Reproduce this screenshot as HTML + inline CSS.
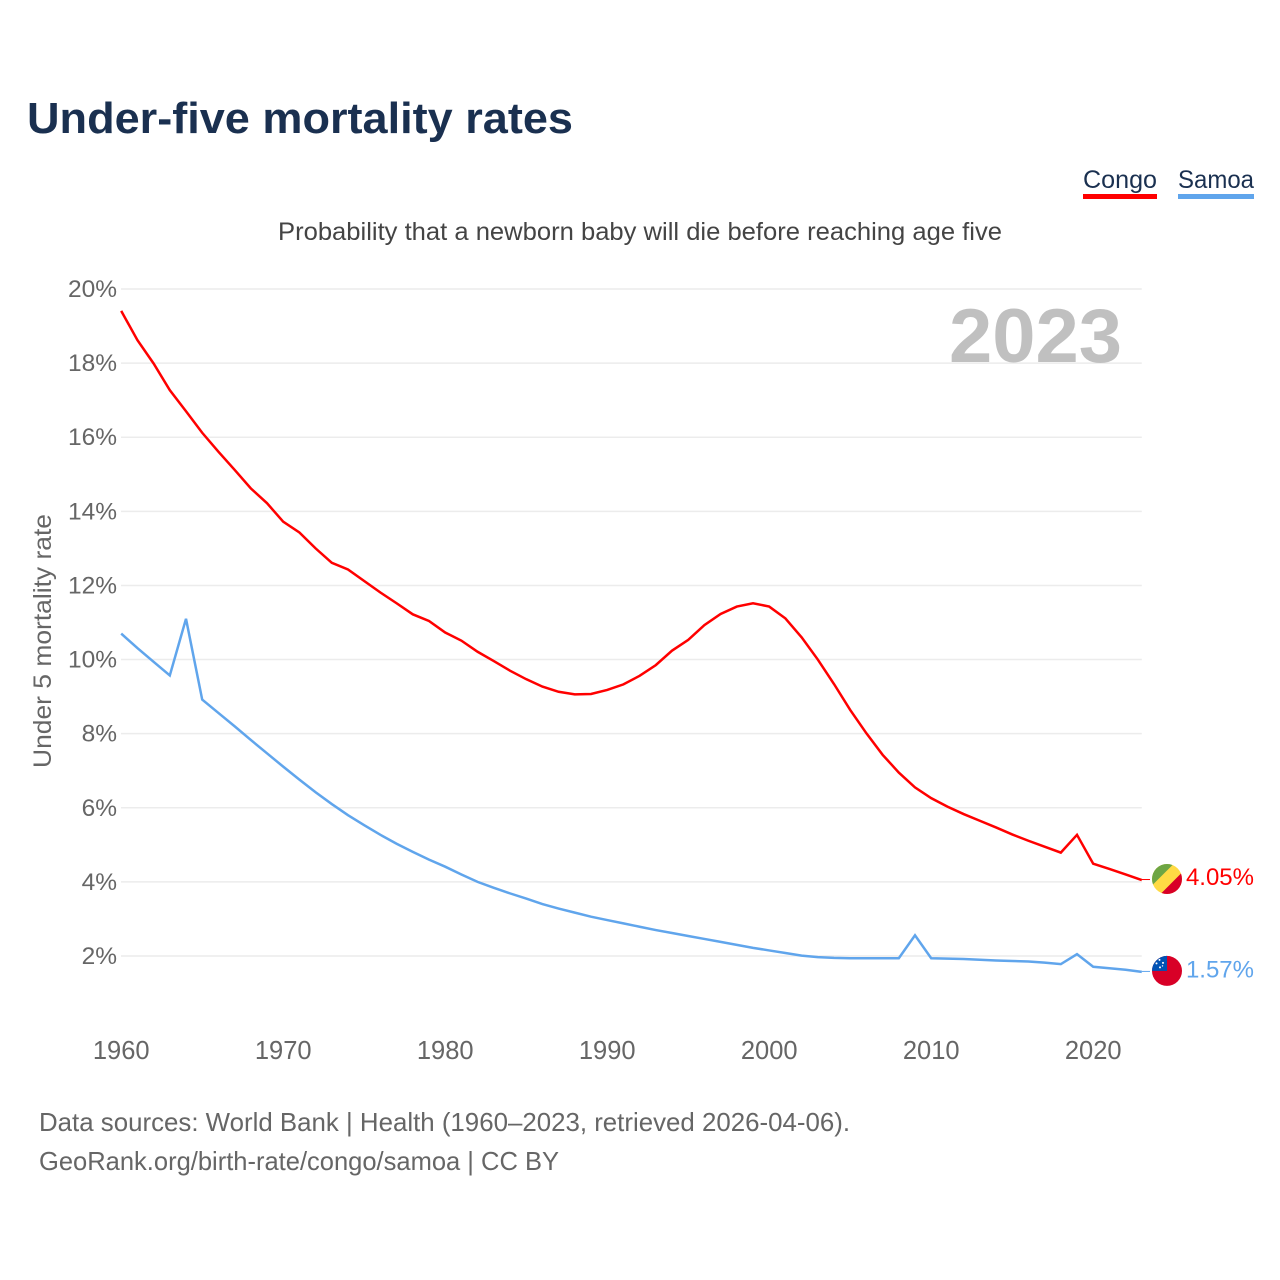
<!DOCTYPE html>
<html lang="en">
<head>
<meta charset="utf-8">
<title>Under-five mortality rates</title>
<style>
  html, body { margin: 0; padding: 0; background: #fff; }
  svg { display: block; font-family: "Liberation Sans", sans-serif; }
</style>
</head>
<body>
<svg id="chart" xmlns="http://www.w3.org/2000/svg" width="1280" height="1280" viewBox="0 0 1280 1280">
  <rect x="0" y="0" width="1280" height="1280" fill="#ffffff"/>
  <text x="27" y="133" font-size="44" font-weight="700" fill="#1a3050" textLength="546" lengthAdjust="spacingAndGlyphs">Under-five mortality rates</text>

  <g>
    <text x="1083" y="188" font-size="25" fill="#1a3050" textLength="74" lengthAdjust="spacingAndGlyphs">Congo</text>
    <rect x="1083" y="194" width="74" height="5" fill="#ff0000"/>
  </g>
  <g>
    <text x="1178" y="188" font-size="25" fill="#1a3050" textLength="76" lengthAdjust="spacingAndGlyphs">Samoa</text>
    <rect x="1178" y="194" width="76" height="5" fill="#60a5ec"/>
  </g>

  <text x="278" y="240" font-size="25" fill="#444444" textLength="724" lengthAdjust="spacingAndGlyphs">Probability that a newborn baby will die before reaching age five</text>
  <text transform="translate(51 768) rotate(-90)" x="0" y="0" font-size="25" fill="#666666" textLength="254" lengthAdjust="spacingAndGlyphs">Under 5 mortality rate</text>

  <g id="grid"></g>
  <g id="yticks"></g>
  <g id="xticks"></g>

  <text x="949" y="362" font-size="76" font-weight="700" fill="#c0c0c0" textLength="173" lengthAdjust="spacingAndGlyphs">2023</text>

  <g id="series"></g>

  <defs>
    <clipPath id="flag-clip"><circle cx="0" cy="0" r="15"/></clipPath>
  </defs>
  <g id="flag-congo" clip-path="url(#flag-clip)">
    <rect x="-16" y="-16" width="32" height="32" fill="#ffda44"/>
    <polygon points="-16,-16 7.5,-16 -16,7.5" fill="#6da544"/>
    <polygon points="16,16 -7.5,16 16,-7.5" fill="#d80027"/>
  </g>
  <g id="flag-samoa" clip-path="url(#flag-clip)">
    <rect x="-16" y="-16" width="32" height="32" fill="#d80027"/>
    <rect x="-16" y="-16" width="16" height="16" fill="#0052b4"/>
    <g fill="#ffffff">
      <circle cx="-7.5" cy="-11" r="1"/>
      <circle cx="-10.5" cy="-7.5" r="1"/>
      <circle cx="-4" cy="-8" r="1"/>
      <circle cx="-7" cy="-3.5" r="1"/>
      <circle cx="-4.5" cy="-5" r="0.7"/>
    </g>
  </g>
  <g id="end-labels"></g>

  <g>
    <text x="39" y="1131" font-size="26" fill="#666666" textLength="811" lengthAdjust="spacingAndGlyphs">Data sources: World Bank | Health (1960–2023, retrieved 2026-04-06).</text>
    <a><text x="39" y="1170" font-size="26" fill="#666666" textLength="520" lengthAdjust="spacingAndGlyphs">GeoRank.org/birth-rate/congo/samoa | CC BY</text></a>
  </g>
</svg>
<script>
const startYear = 1960;
const congoValues = [19.41,18.62,17.99,17.27,16.70,16.12,15.61,15.12,14.62,14.22,13.72,13.43,13.00,12.61,12.43,12.12,11.81,11.52,11.22,11.04,10.73,10.51,10.21,9.96,9.70,9.47,9.27,9.13,9.06,9.07,9.18,9.33,9.56,9.85,10.24,10.53,10.93,11.23,11.43,11.52,11.43,11.11,10.60,10.00,9.34,8.64,8.01,7.43,6.95,6.55,6.26,6.03,5.83,5.65,5.47,5.28,5.11,4.95,4.79,5.27,4.49,4.35,4.20,4.05];
const samoaValues = [10.70,10.31,9.94,9.57,11.10,8.92,8.56,8.20,7.83,7.47,7.11,6.76,6.42,6.10,5.80,5.53,5.27,5.03,4.81,4.60,4.41,4.20,4.00,3.84,3.69,3.55,3.40,3.28,3.17,3.06,2.97,2.88,2.79,2.70,2.62,2.54,2.46,2.38,2.30,2.22,2.15,2.08,2.01,1.97,1.95,1.94,1.94,1.94,1.94,2.56,1.94,1.93,1.92,1.90,1.88,1.865,1.85,1.82,1.78,2.05,1.71,1.67,1.63,1.57];
const yTickValues = [2,4,6,8,10,12,14,16,18,20];
const yTickLabels = ["2%","4%","6%","8%","10%","12%","14%","16%","18%","20%"];
const xTickValues = [1960,1970,1980,1990,2000,2010,2020];
const xTickLabels = ["1960","1970","1980","1990","2000","2010","2020"];
const congoEndLabel = "4.05%";
const samoaEndLabel = "1.57%";

const NS = 'http://www.w3.org/2000/svg';
function xScale(year) { return 121.2 + (year - 1960) * 16.2; }
function yScale(v) { return 289 + (20 - v) * 37.055; }
const plotRight = xScale(2023);

function make(tag, attrs) {
  const el = document.createElementNS(NS, tag);
  for (const k in attrs) el.setAttribute(k, attrs[k]);
  return el;
}

const grid = document.getElementById('grid');
const yticks = document.getElementById('yticks');
yTickValues.forEach(function (v, i) {
  const line = make('line', { x1: 121, x2: plotRight, y1: yScale(v), y2: yScale(v), stroke: '#ececec', 'stroke-width': 1.5 });
  
  
  grid.appendChild(line);
  const label = make('text', { x: 117, y: yScale(v) + 8, 'font-size': 24.5, fill: '#666666', 'text-anchor': 'end' });
  
  
  label.textContent = yTickLabels[i];
  yticks.appendChild(label);
});

const xticks = document.getElementById('xticks');
xTickValues.forEach(function (yr, i) {
  const label = make('text', { x: xScale(yr), y: 1059, 'font-size': 25.5, fill: '#666666', 'text-anchor': 'middle' });
  
  
  label.textContent = xTickLabels[i];
  xticks.appendChild(label);
});

function drawSeries(values, color, name) {
  const series = document.getElementById('series');
  const pts = values.map(function (v, i) { return xScale(startYear + i).toFixed(2) + ',' + yScale(v).toFixed(2); }).join(' ');
  const line = make('polyline', { points: pts, fill: 'none', stroke: color, 'stroke-width': 2.5, 'stroke-linejoin': 'miter' });
  
  
  series.appendChild(line);
  const lastY = yScale(values[values.length - 1]);
  const tail = make('line', { x1: plotRight, x2: 1150, y1: lastY - 0.5, y2: lastY - 0.5, stroke: color, 'stroke-width': 1 });
  
  
  series.appendChild(tail);
  return lastY;
}

const congoEnd = drawSeries(congoValues, '#ff0000', 'line-congo');
const samoaEnd = drawSeries(samoaValues, '#60a5ec', 'line-samoa');

document.getElementById('flag-congo').setAttribute('transform', 'translate(1167 ' + (congoEnd - 1) + ')');
document.getElementById('flag-samoa').setAttribute('transform', 'translate(1167 ' + (samoaEnd - 1) + ')');

const endLabels = document.getElementById('end-labels');
const congoLabel = make('text', { x: 1254, y: congoEnd + 5, 'font-size': 24, fill: '#ff0000', 'text-anchor': 'end' });


congoLabel.textContent = congoEndLabel;
endLabels.appendChild(congoLabel);
const samoaLabel = make('text', { x: 1254, y: samoaEnd + 5.5, 'font-size': 24, fill: '#60a5ec', 'text-anchor': 'end' });


samoaLabel.textContent = samoaEndLabel;
endLabels.appendChild(samoaLabel);
</script>
</body>
</html>
